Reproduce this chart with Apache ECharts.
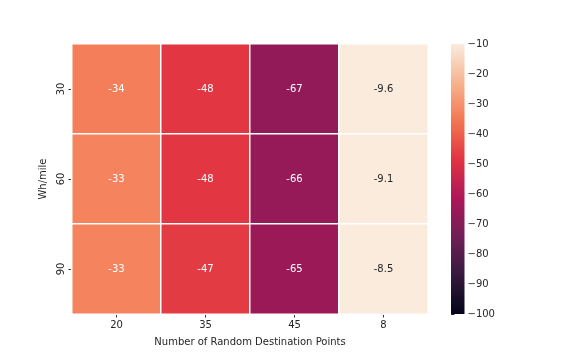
<!DOCTYPE html>
<html><head><meta charset="utf-8">
<script src="https://cdn.jsdelivr.net/npm/echarts@6/dist/echarts.min.js"></script>
<style>html,body{margin:0;padding:0;background:#fff}#c{width:576px;height:360px}</style>
</head><body><div id="c"></div>
<script>
const xCategories = ['20', '35', '45', '8'];
const yCategories = ['30', '60', '90'];
const row30 = [-34, -48, -67, -9.6];
const row60 = [-33, -48, -66, -9.1];
const row90 = [-33, -47, -65, -8.5];
const colorbarTicks = [-100, -90, -80, -70, -60, -50, -40, -30, -20, -10];
const vMin = -100, vMax = -10;

const rows = [row30, row60, row90];
const data = [];
rows.forEach((r, yi) => r.forEach((v, xi) => data.push([xi, yi, v])));

// rocket colormap approximation
const stops = [[0,'#03051a'],[1/7,'#35193e'],[2/7,'#701f57'],[3/7,'#ad1759'],[4/7,'#e13342'],[5/7,'#f37651'],[6/7,'#f6b48f'],[1,'#faebdd']];
function hex(c){return [parseInt(c.slice(1,3),16),parseInt(c.slice(3,5),16),parseInt(c.slice(5,7),16)];}
function interp(t){
  for(let i=0;i<stops.length-1;i++){
    const [t0,c0]=stops[i],[t1,c1]=stops[i+1];
    if(t>=t0&&t<=t1){const f=(t-t0)/(t1-t0);const a=hex(c0),b=hex(c1);
      return 'rgb('+a.map((x,k)=>Math.round(x+(b[k]-x)*f)).join(',')+')';}
  }
  return stops[stops.length-1][1];
}
const palette=[];for(let i=0;i<=100;i++)palette.push(interp(i/100));
const gradStops = palette.map((c,i)=>({offset:1-i/100, color:c}));

const font = 'DejaVu Sans';
const chart = echarts.init(document.getElementById('c'));
chart.setOption({
  animation:false,
  textStyle:{fontFamily:font},
  grid:[
    {left:72, top:44, width:356, height:270},
    {left:451, top:44, width:13.5, height:270}
  ],
  xAxis:[
    {type:'category', data:xCategories, gridIndex:0, name:'Number of Random Destination Points', nameLocation:'middle', nameGap:23,
     nameTextStyle:{fontSize:10, color:'#262626', fontFamily:font},
     axisLine:{show:false}, axisTick:{show:true, alignWithLabel:true, length:3.5, lineStyle:{color:'#333'}},
     axisLabel:{fontSize:10, color:'#262626', margin:6}, splitLine:{show:false}},
    {type:'value', gridIndex:1, min:0, max:1, show:false}
  ],
  yAxis:[
    {type:'category', data:yCategories, gridIndex:0, inverse:true, name:'Wh/mile', nameLocation:'middle', nameGap:22,
     nameTextStyle:{fontSize:10, color:'#262626', fontFamily:font},
     axisLine:{show:false}, axisTick:{show:true, alignWithLabel:true, length:3.5, lineStyle:{color:'#333'}},
     axisLabel:{fontSize:10, color:'#262626', rotate:90, margin:6}, splitLine:{show:false}},
    {type:'value', gridIndex:1, position:'right', min:vMin, max:vMax, interval:10,
     axisLine:{show:false}, axisTick:{show:true, length:3.5, lineStyle:{color:'#333'}},
     axisLabel:{fontSize:10, color:'#262626', margin:3, formatter:v=>colorbarTicks.includes(v)?String(v).replace('-','\u2212'):''},
     splitLine:{show:false}}
  ],
  visualMap:{
    type:'continuous', min:vMin, max:vMax, seriesIndex:0, show:false,
    inRange:{color:palette}
  },
  series:[{
    type:'heatmap', xAxisIndex:0, yAxisIndex:0,
    data:data.map(d=>({value:d, label:{color: d[2] > -25 ? '#262626' : '#ffffff'}})),
    itemStyle:{borderColor:'#ffffff', borderWidth:1.5},
    label:{show:true, fontSize:10, fontFamily:font, formatter:p=>String(p.value[2])},
    emphasis:{disabled:true}
  },{
    type:'custom', xAxisIndex:1, yAxisIndex:1, data:[[0, vMin, 1, vMax]], silent:true,
    renderItem:(params, api)=>{
      const p0 = api.coord([api.value(0), api.value(1)]);
      const p1 = api.coord([api.value(2), api.value(3)]);
      return {type:'rect', shape:{x:p0[0], y:p1[1], width:p1[0]-p0[0], height:p0[1]-p1[1]},
        style:{fill:new echarts.graphic.LinearGradient(0,0,0,1,gradStops)}};
    }
  }]
});
</script></body></html>
